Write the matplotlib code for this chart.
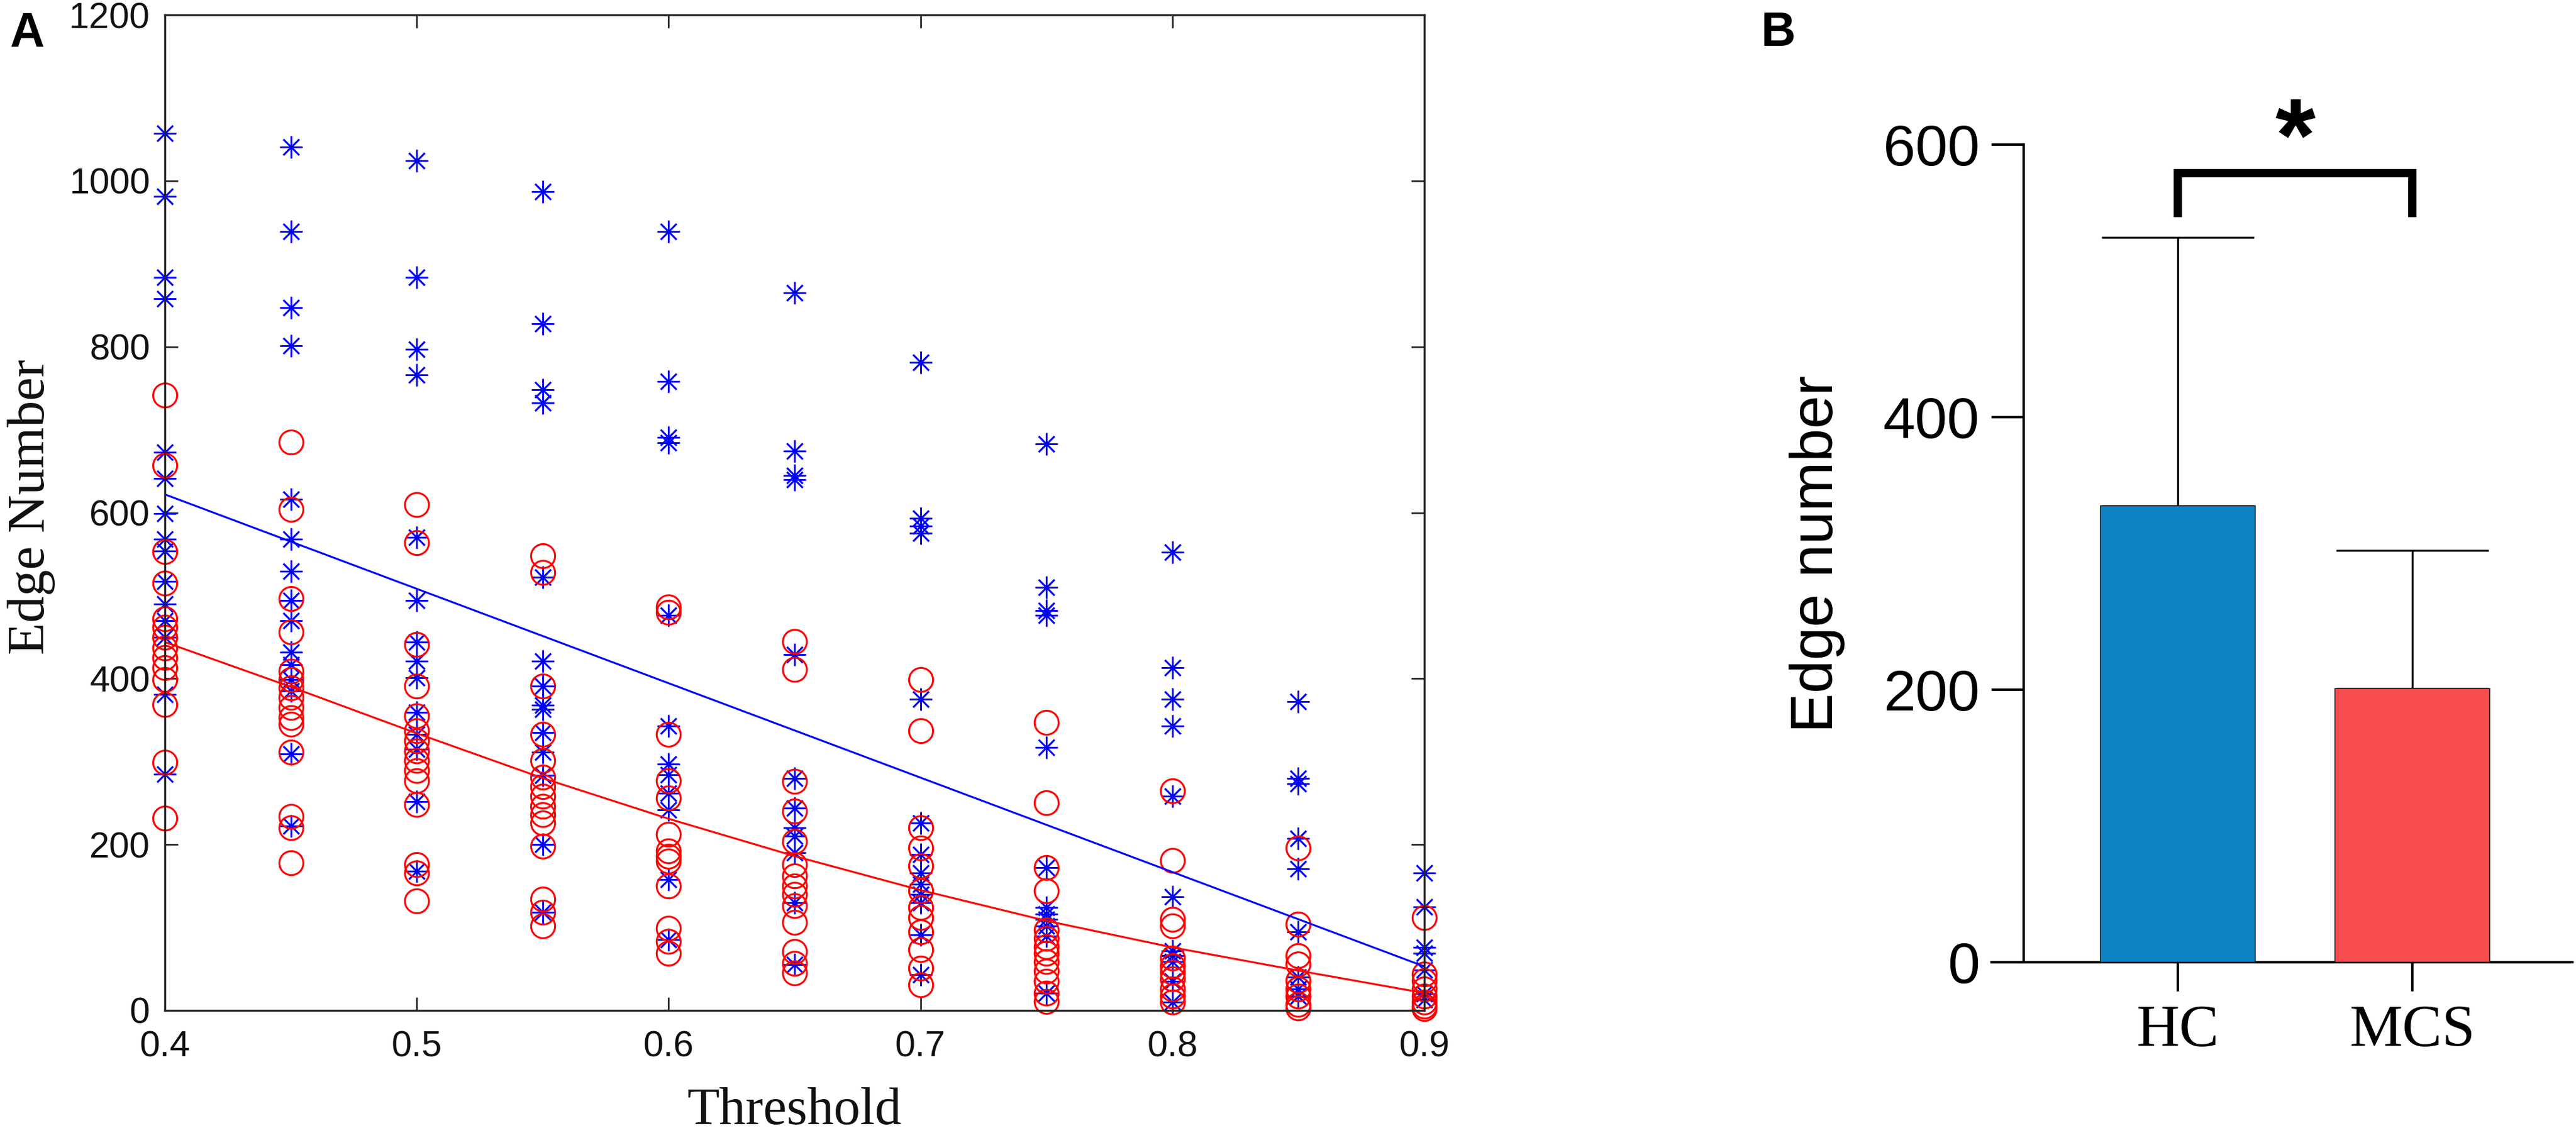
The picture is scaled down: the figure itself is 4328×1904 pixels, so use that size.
import numpy as np
import matplotlib
matplotlib.use("Agg")
import matplotlib.pyplot as plt

# panel A: edge number of every subject at each threshold
thresholds = [0.40, 0.45, 0.50, 0.55, 0.60, 0.65, 0.70, 0.75, 0.80, 0.85, 0.90]

hc_040 = [1057, 981, 884, 858, 673, 641, 599, 568, 554, 517, 490, 470, 450, 381, 285]
hc_045 = [1041, 939, 847, 801, 616, 568, 529, 494, 470, 432, 417, 399, 385, 309, 222]
hc_050 = [1024, 884, 797, 766, 570, 494, 444, 421, 401, 359, 333, 315, 252, 168]
hc_055 = [987, 828, 748, 732, 522, 421, 391, 368, 363, 335, 311, 283, 200, 118]
hc_060 = [939, 758, 691, 684, 476, 343, 297, 284, 262, 242, 158, 85]
hc_065 = [865, 674, 645, 640, 429, 280, 244, 220, 210, 190, 130, 55]
hc_070 = [781, 593, 584, 575, 375, 226, 188, 166, 152, 140, 130, 91, 43]
hc_075 = [683, 510, 482, 476, 317, 172, 124, 116, 110, 102, 90, 21]
hc_080 = [552, 413, 375, 343, 258, 137, 72, 66, 59, 35, 10]
hc_085 = [372, 280, 273, 207, 171, 95, 40, 26, 17]
hc_090 = [166, 125, 76, 69, 49, 20, 13]

mcs_040 = [742, 657, 553, 515, 472, 462, 450, 437, 425, 413, 399, 369, 299, 232]
mcs_045 = [685, 604, 496, 456, 409, 399, 389, 377, 365, 353, 345, 311, 234, 220, 178]
mcs_050 = [610, 564, 441, 391, 355, 337, 325, 313, 301, 289, 277, 248, 176, 166, 132]
mcs_055 = [548, 528, 391, 333, 301, 281, 270, 258, 246, 236, 226, 198, 134, 118, 102]
mcs_060 = [486, 480, 333, 277, 256, 212, 192, 186, 180, 150, 99, 83, 69]
mcs_065 = [445, 411, 276, 240, 204, 176, 162, 150, 140, 126, 106, 71, 57, 45]
mcs_070 = [399, 337, 220, 196, 174, 144, 124, 112, 95, 73, 51, 31]
mcs_075 = [347, 250, 172, 144, 97, 87, 77, 69, 59, 47, 35, 21, 11]
mcs_080 = [265, 181, 110, 102, 63, 54, 46, 38, 26, 17, 10]
mcs_085 = [196, 104, 66, 56, 36, 26, 17, 7, 3]
mcs_090 = [112, 44, 36, 26, 17, 10, 5, 2]

hc_cols = [hc_040, hc_045, hc_050, hc_055, hc_060, hc_065,
           hc_070, hc_075, hc_080, hc_085, hc_090]
mcs_cols = [mcs_040, mcs_045, mcs_050, mcs_055, mcs_060, mcs_065,
            mcs_070, mcs_075, mcs_080, mcs_085, mcs_090]

# fitted curves
hc_fit_x = [0.40, 0.90]
hc_fit = [622, 53]
mcs_fit = [444, 390, 334, 280, 231, 186, 145, 108, 76, 48, 21]

# panel B: mean + SD
groups = ["HC", "MCS"]
group_mean = [335, 201]
group_sd = [197, 101]

DPI = 100
W, H = 4328, 1904
fig = plt.figure(figsize=(W / DPI, H / DPI), dpi=DPI)

def fx(px):
    return px / W

def fy(px):
    return 1 - px / H

# ---------------- panel A ----------------
axA = fig.add_axes([fx(277), fy(1698), fx(2393 - 277), (1698 - 25) / H])

# markers sit on the box edges at 0.4 and 0.9, so no clipping (like MATLAB)
for t, col in zip(thresholds, hc_cols):
    axA.plot([t] * len(col), col, linestyle="none", marker=(8, 2, 0),
             markersize=27, markeredgewidth=1.9, color="#0000ff", clip_on=False)
for t, col in zip(thresholds, mcs_cols):
    axA.plot([t] * len(col), col, linestyle="none", marker="o",
             markersize=29, markeredgewidth=2.3, markerfacecolor="none",
             markeredgecolor="#ff0000", clip_on=False)
axA.plot(hc_fit_x, hc_fit, color="#0000ff", lw=2.3)
axA.plot(thresholds, mcs_fit, color="#ff0000", lw=2.3)

axA.set_xlim(0.4, 0.9)
axA.set_ylim(0, 1200)
axA.set_xticks([0.4, 0.5, 0.6, 0.7, 0.8, 0.9])
axA.set_yticks(range(0, 1201, 200))
axA.tick_params(direction="in", top=True, right=True, length=16, width=2,
                color="#262626", labelsize=44, labelcolor="#111111")
axA.tick_params(axis="x", pad=24)
axA.tick_params(axis="y", pad=18)
for lab in axA.get_xticklabels() + axA.get_yticklabels():
    lab.set_fontfamily("Liberation Sans")
for sp in axA.spines.values():
    sp.set_linewidth(2.5)
    sp.set_color("#262626")

fig.text(fx(1335), fy(1889), "Threshold", family="Liberation Serif",
         fontsize=64, ha="center", va="baseline", color="#111111")
fig.text(fx(74), fy(852), "Edge Number", family="Liberation Serif",
         fontsize=64, rotation=90, rotation_mode="anchor",
         ha="center", va="baseline", color="#111111")

# ---------------- panel B ----------------
axB = fig.add_axes([fx(3346), fy(1617), fx(4322 - 3346), (1617 - 243) / H])
xpos = np.arange(len(groups))
axB.bar(xpos, group_mean, width=0.66, color=["#0f82c3", "#f74d4f"],
        edgecolor="#222222", linewidth=1.2, zorder=3)
axB.errorbar(xpos, group_mean, yerr=[[0, 0], group_sd], fmt="none",
             ecolor="black", elinewidth=2.4, capsize=92, capthick=2.4, zorder=2)

axB.set_xlim(-0.794, 1.683)
axB.set_ylim(0, 600)
axB.spines["left"].set_position(("data", -0.657))
axB.spines["top"].set_visible(False)
axB.spines["right"].set_visible(False)
for side in ["left", "bottom"]:
    axB.spines[side].set_linewidth(3)
    axB.spines[side].set_color("black")
axB.set_yticks([0, 200, 400, 600])
axB.set_xticks(xpos)
axB.set_xticklabels(groups)
axB.tick_params(axis="y", direction="out", length=39, width=3, pad=14, labelsize=70)
axB.tick_params(axis="x", direction="out", length=35, width=3, pad=16, labelsize=72)
for lab in axB.get_yticklabels():
    lab.set_fontfamily("Liberation Sans")
for lab in axB.get_xticklabels():
    lab.set_fontfamily("Liberation Serif")

fig.text(fx(3053), fy(931), "Edge number", family="Liberation Sans",
         fontsize=72, rotation=90, rotation_mode="anchor",
         ha="center", va="center")

# significance bracket over the two bars
top = max(m + s for m, s in zip(group_mean, group_sd))
br_hi = top + 47
br_lo = top + 18
axB.plot([xpos[0], xpos[0], xpos[1], xpos[1]], [br_lo, br_hi, br_hi, br_lo],
         color="black", lw=10, solid_joinstyle="miter", clip_on=False)
axB.text(xpos.mean(), br_hi + 2, "*", family="Liberation Sans",
         fontweight="bold", fontsize=125, ha="center", va="baseline")

# panel letters
fig.text(fx(17), fy(77), "A", family="Liberation Sans", fontweight="bold",
         fontsize=58, ha="left", va="baseline")
fig.text(fx(2959), fy(77), "B", family="Liberation Sans", fontweight="bold",
         fontsize=58, ha="left", va="baseline")

fig.savefig("out.png", dpi=DPI, facecolor="white")
